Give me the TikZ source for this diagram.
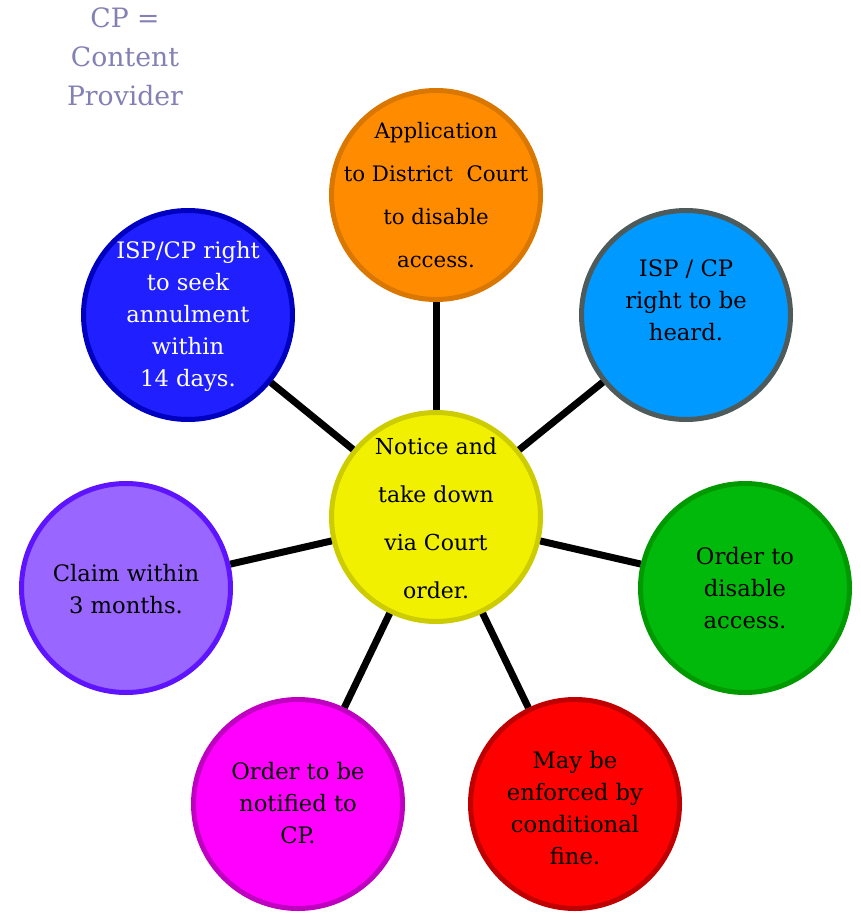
\documentclass[tikz,border=0pt]{standalone}
\usepackage{fontspec}
\setmainfont{DejaVu Serif}
\definecolor{cpgray}{RGB}{130,128,180}
\definecolor{cyel}{RGB}{240,240,0}\definecolor{cyelb}{RGB}{204,204,0}
\definecolor{corg}{RGB}{255,140,0}\definecolor{corgb}{RGB}{217,119,0}
\definecolor{csky}{RGB}{0,153,255}\definecolor{cskyb}{RGB}{79,91,91}
\definecolor{cgrn}{RGB}{0,185,10}\definecolor{cgrnb}{RGB}{0,154,0}
\definecolor{cred}{RGB}{255,0,0}\definecolor{credb}{RGB}{192,0,0}
\definecolor{cmag}{RGB}{255,0,255}\definecolor{cmagb}{RGB}{192,0,192}
\definecolor{cpur}{RGB}{153,102,255}\definecolor{cpurb}{RGB}{94,20,255}
\definecolor{cblu}{RGB}{31,31,255}\definecolor{cblub}{RGB}{0,0,192}
\begin{document}
\begin{tikzpicture}[x=0.75pt,y=-0.75pt,
  circ/.style={circle,draw,line width=3.75pt,minimum size=156.75pt,inner sep=0pt},
  txt/.style={align=center,font=\fontsize{17}{24}\selectfont,text=black},
  link/.style={line width=5.25pt,black}]
\useasboundingbox (0,0) rectangle (860,916);
\node[circ,fill=cyel,draw=cyelb] (c) at (436,517) {};
\node[circ,fill=corg,draw=corgb] (o1) at (436,195) {};
\node[circ,fill=csky,draw=cskyb] (o2) at (686,315) {};
\node[circ,fill=cgrn,draw=cgrnb] (o3) at (745,588) {};
\node[circ,fill=cred,draw=credb] (o4) at (575,804) {};
\node[circ,fill=cmag,draw=cmagb] (o5) at (298,804) {};
\node[circ,fill=cpur,draw=cpurb] (o6) at (126,588) {};
\node[circ,fill=cblu,draw=cblub] (o7) at (188,315) {};
\foreach \n in {o1,o2,o3,o4,o5,o6,o7} \draw[link] (c) -- (\n);
\node[txt,font=\fontsize{16.5}{36}\selectfont] (tc) at (436,518) {Notice and\\take down\\via Court\\order.};
\node[txt,font=\fontsize{16}{32.25}\selectfont] (t1) at (436,195) {Application\\to District~ Court\\to disable\\access.};
\node[txt] (t2) at (686,300) {ISP / CP\\right to be\\heard.};
\node[txt] (t3) at (745,588) {Order to\\disable\\access.};
\node[txt] (t4) at (575,808) {May be\\enforced by\\conditional\\fine.};
\node[txt] (t5) at (298,803) {Order to be\\notified to\\CP.};
\node[txt] (t6) at (126,589) {Claim within\\3 months.};
\node[txt,text=white] (t7) at (188,316) {ISP/CP right\\to seek\\annulment\\within\\14 days.};
\node[align=center,text=cpgray,font=\fontsize{20}{29.25}\selectfont] (cp) at (125,57) {CP =\\Content\\Provider};
\end{tikzpicture}
\end{document}
